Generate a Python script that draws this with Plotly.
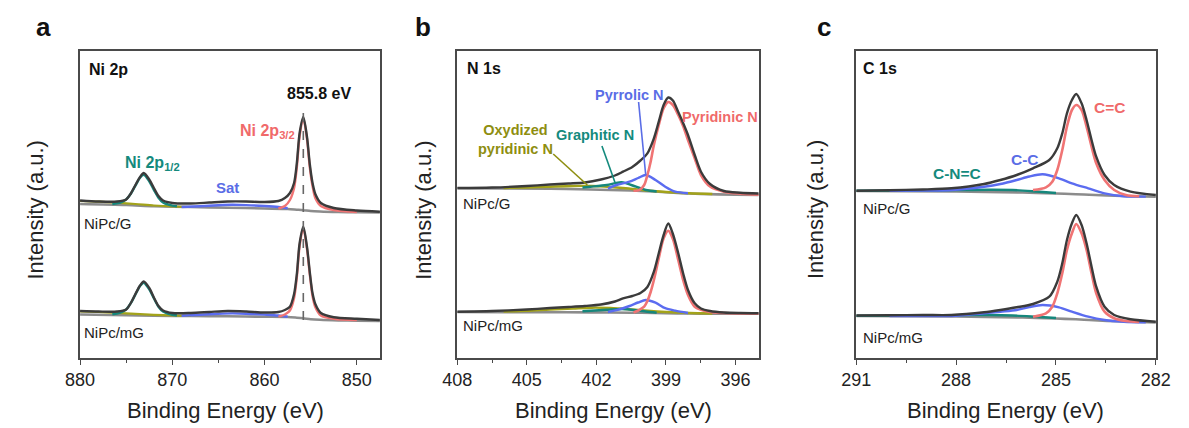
import plotly.graph_objects as go

W, H = 1189, 428

# ---------------- Panel a : Ni 2p ----------------
ni_x = [880, 878, 876, 875, 874.5, 874, 873.5, 873.1, 872.5, 872, 871.5, 871, 870, 868, 866, 864, 862, 860,
        858.5, 857.8, 857.25, 856.8, 856.5, 856.2, 855.8, 855.4, 855.1, 854.8, 854.5, 853.9, 852.5, 850, 847.5]
ni_g_env = [157.5, 156.5, 156.5, 158.5, 164.5, 173, 181, 185, 178.5, 170, 162, 157.5, 155, 154.5, 155.5, 156.5, 156.5, 156,
            157, 160, 165, 175, 195, 225, 241, 221, 194, 175, 164, 155, 150, 147.5, 146.3]
ni_mg_env = [47, 46.5, 46.5, 48.5, 55, 64, 72.5, 76.5, 70, 60.5, 52, 47.5, 45, 45, 46, 47, 46.5, 45.5,
             46, 48, 51.3, 64, 84, 114.7, 131.3, 111, 86, 64.7, 54, 45, 40.8, 39.2, 38]
ni_bg_x = [880, 875, 872, 868, 864, 860, 857.5, 856.5, 855.8, 855, 854, 852, 850, 847.5]
ni_g_bg = [154, 153, 151.8, 151, 150.3, 149.5, 149, 148.3, 147.8, 147, 146.5, 146, 145.8, 145.6]
ni_mg_bg = [43.5, 42.8, 42.3, 42, 41.7, 41.3, 41, 40.3, 39.7, 38.8, 38.2, 37.6, 37.3, 37]
ni_p12_x = [876.5, 876, 875.5, 875, 874.5, 874, 873.5, 873.1, 872.5, 872, 871.5, 871, 870.5, 870, 869.5]
ni_g_p12 = [153.9, 154.6, 155.9, 158.6, 164.3, 172.4, 180.3, 183.2, 176.8, 168.2, 160.3, 155.5, 153.6, 152.4, 151.7]
ni_mg_p12 = [43.7, 44.4, 45.8, 48.6, 54.8, 63.6, 72.1, 75.3, 68.6, 59.7, 51.3, 46.4, 44.3, 43.2, 42.5]
ni_sat2_x = [880, 878, 876, 874, 872, 870, 868]
ni_g_sat2 = [157, 156.3, 155.3, 154, 152.5, 151.5, 151]
ni_mg_sat2 = [46.5, 46, 45.2, 44.2, 43.2, 42.5, 42.1]
ni_sat_x = [869, 867, 865, 863.5, 862, 860, 858.5, 857.5]
ni_g_sat = [151, 151.8, 152.8, 153.2, 152.9, 152, 151, 149.8]
ni_mg_sat = [42.3, 43.2, 44.2, 44.6, 44.3, 43.4, 42.5, 41.3]
ni_p32_x = [858.5, 857.8, 857.25, 856.8, 856.5, 856.2, 855.8, 855.4, 855.1, 854.8, 854.5, 853.9, 852.5, 850]
ni_g_p32 = [149.5, 152, 158, 170, 191, 222, 239.5, 219, 191, 172, 160, 152, 148, 146]
ni_mg_p32 = [41.3, 43.5, 47.5, 60, 81, 112, 129.5, 109, 84, 62, 51, 42.5, 39.3, 38]
ni_peak_pos = 855.8

# ---------------- Panel b : N 1s ----------------
n_x = [408, 406.5, 405, 404, 403.2, 402.5, 401.8, 401.2, 400.85, 400.45, 400.1, 399.8, 399.52, 399.31, 399.1,
       398.9, 398.7, 398.47, 398.26, 398.05, 397.76, 397.49, 397.1, 396.5, 395.8, 395]
n_g_env = [170, 170.5, 172, 173.5, 174.5, 175.5, 178.5, 182.5, 186.3, 191, 197.5, 204.7, 219.7, 236.3, 253,
           260.5, 257.5, 246, 235, 223, 203, 186.3, 174, 167, 165.3, 164.5]
n_mg_env = [46.3, 47, 48.5, 50, 51, 52, 53.5, 56.5, 59.7, 62, 65, 71, 86.3, 104.7, 123,
            134.5, 124, 104.7, 84.7, 68, 54.7, 49.5, 47, 45.5, 45, 44.8]
n_bg_x = [408, 404, 402.25, 400.5, 399.5, 398.5, 397.5, 396, 395]
n_g_bg = [169.7, 169.3, 168.5, 167.5, 166.5, 165, 164, 163.3, 163]
n_mg_bg = [46, 45.8, 45.6, 45.3, 45, 44.6, 44.4, 44.3, 44.2]
n_pyd_x = [400.4, 400.15, 399.94, 399.8, 399.66, 399.52, 399.31, 399.1, 398.9, 398.7, 398.47, 398.26, 398.05,
           397.76, 397.49, 397.1, 396.5, 395.8, 395]
n_g_pyd = [167.3, 167.8, 173, 183, 196.3, 213, 233, 249.7, 256, 253, 243, 232, 218, 199.7, 183, 171.5, 166.3, 164.3, 163.3]
n_mg_pyd = [45.5, 48, 51.3, 57, 66, 78, 99.7, 119.7, 127.3, 119, 98, 78, 63, 51.3, 48.3, 46, 45, 44.5, 44.2]
n_pyr_x = [401.5, 401.13, 400.57, 400.2, 399.87, 399.45, 399.03, 398.6, 398.05]
n_g_pyr = [169.5, 173, 176.3, 180, 183, 178, 171.3, 166.3, 164.8]
n_mg_pyr = [46, 47.8, 52, 55.5, 58, 55.3, 49.8, 47.3, 45]
n_gra_x = [402.6, 402.25, 401.55, 400.92, 400.29, 399.87, 399.4]
n_g_gra = [170.5, 171.3, 173, 175.7, 171.3, 168, 166.5]
n_mg_gra = [46.8, 47.2, 48.2, 49, 47.8, 46.5, 45.3]
n_oxi_x = [406, 405, 404, 403, 402.2, 401.4, 400.6, 399.8, 399, 398, 397]
n_g_oxi = [170, 170.5, 171.3, 172, 172, 171, 169.5, 167.5, 166, 164.8, 164]
n_mg_oxi = [46.5, 47.2, 48.5, 49.5, 50.3, 50, 48.8, 47.2, 46, 45, 44.5]

# ---------------- Panel c : C 1s ----------------
c_x = [291, 290, 289, 288.14, 287.16, 286.67, 286.18, 285.69, 285.2, 284.96, 284.81, 284.67, 284.52, 284.39,
       284.23, 284.08, 283.93, 283.79, 283.54, 283.25, 282.76, 282]
c_g_env = [167.3, 167.8, 168.5, 169.7, 174, 178, 183, 189.7, 198, 209.7, 224.7, 244.7, 258, 264,
           254.7, 238, 218, 201.3, 183, 173, 166.3, 163]
c_mg_env = [42.5, 42.7, 43, 43, 45.7, 48, 50.7, 54, 61.3, 76.3, 94.7, 118, 134.7, 143,
            133, 114.7, 91.3, 71.3, 51.3, 43, 38.7, 36.3]
c_bg_x = [291, 288, 286, 285, 284.4, 284, 283, 282]
c_g_bg = [167, 166.5, 165.5, 164.5, 163.8, 163.2, 162, 161.3]
c_mg_bg = [42, 41.5, 40.5, 39.5, 38.7, 38, 36.5, 35.5]
c_cc2_x = [285.69, 285.3, 285.11, 284.96, 284.81, 284.67, 284.52, 284.39, 284.23, 284.08, 283.93, 283.79,
           283.54, 283.25, 282.9, 282.5]
c_g_cc2 = [168, 170.7, 176.3, 188, 208, 231.3, 248, 253, 248, 231.3, 211.3, 194.7, 178, 168, 163, 161.8]
c_mg_cc2 = [41.3, 44.7, 51.3, 64.7, 84.7, 108, 124.7, 134, 124.7, 108, 84.7, 64.7, 46.3, 39.7, 37, 36]
c_cc_x = [290, 289, 288.14, 287.16, 286.67, 286.18, 285.8, 285.4, 284.91, 284.52, 284.03, 283.54, 282.96, 282.3]
c_g_cc = [167.2, 167.5, 168, 171.3, 174, 178, 181.5, 183.7, 179.7, 174.7, 169.7, 164.7, 161.8, 161.4]
c_mg_cc = [42, 42, 42, 44.7, 46.3, 48, 51, 53, 50.7, 46.3, 41.3, 38, 36.3, 35.7]
c_cnc_x = [291, 290, 289, 288, 287, 286.3, 285.6, 285]
c_g_cnc = [167.3, 167.4, 167.6, 167.9, 168.2, 168, 166.5, 165]
c_mg_cnc = [42.3, 42.4, 42.6, 42.8, 43, 42.5, 41.2, 40]

# ---------------- styling ----------------
FONT = "Liberation Sans, Arial, sans-serif"
ENV = "#3b3b3b"
BG = "#8c8c8c"
RED = "#f07474"
BLUE = "#5b6cf0"
TEAL = "#16877c"
OLIVE = "#a3a31a"
RED_T = "#f06a6a"
BLUE_T = "#5a6de6"
TEAL_T = "#148a7d"
OLIVE_T = "#8e8e10"

fig = go.Figure()


def add(x, y, color, width, ax):
    fig.add_trace(go.Scatter(
        x=x, y=y, mode="lines",
        line=dict(color=color, width=width, shape="spline", smoothing=0.8),
        xaxis="x" if ax == 1 else f"x{ax}", yaxis="y" if ax == 1 else f"y{ax}",
        showlegend=False, hoverinfo="skip"))


panels = [
    (1, [(ni_bg_x, ni_g_bg, ni_mg_bg, BG, 2.6),
         (ni_sat2_x, ni_g_sat2, ni_mg_sat2, OLIVE, 2.2),
         (ni_p12_x, ni_g_p12, ni_mg_p12, TEAL, 2.4),
         (ni_sat_x, ni_g_sat, ni_mg_sat, BLUE, 2.4),
         (ni_p32_x, ni_g_p32, ni_mg_p32, RED, 2.4),
         (ni_x, ni_g_env, ni_mg_env, ENV, 2.4)]),
    (2, [(n_bg_x, n_g_bg, n_mg_bg, BG, 2.6),
         (n_oxi_x, n_g_oxi, n_mg_oxi, OLIVE, 2.4),
         (n_gra_x, n_g_gra, n_mg_gra, TEAL, 2.4),
         (n_pyr_x, n_g_pyr, n_mg_pyr, BLUE, 2.4),
         (n_pyd_x, n_g_pyd, n_mg_pyd, RED, 2.6),
         (n_x, n_g_env, n_mg_env, ENV, 2.4)]),
    (3, [(c_bg_x, c_g_bg, c_mg_bg, BG, 2.6),
         (c_cnc_x, c_g_cnc, c_mg_cnc, TEAL, 2.4),
         (c_cc_x, c_g_cc, c_mg_cc, BLUE, 2.4),
         (c_cc2_x, c_g_cc2, c_mg_cc2, RED, 2.6),
         (c_x, c_g_env, c_mg_env, ENV, 2.4)]),
]
for ax, comps in panels:
    for x, yg, ymg, col, w in comps:
        add(x, yg, col, w, ax)
        add(x, ymg, col, w, ax)


def px(x):
    return x / W


def py(y):
    return 1 - y / H


ydom = [py(358), py(51)]
xdoms = [[px(66.7), px(374)], [px(453.3), px(762.3)], [px(862.3), px(1170)]]
xranges = [[880, 847.5], [408, 395.0], [291, 281.98]]
dticks = [(10, 5), (3, 1.5), (3, 1.5)]

layout = dict(
    width=W, height=H, margin=dict(l=0, r=0, t=0, b=0),
    paper_bgcolor="white", plot_bgcolor="white",
    font=dict(family=FONT, color="#222"),
    showlegend=False,
)
for i in range(3):
    sx = "xaxis" if i == 0 else f"xaxis{i+1}"
    sy = "yaxis" if i == 0 else f"yaxis{i+1}"
    anchor_y = "y" if i == 0 else f"y{i+1}"
    anchor_x = "x" if i == 0 else f"x{i+1}"
    layout[sx] = dict(domain=xdoms[i], range=xranges[i], anchor=anchor_y,
                      showline=True, mirror=True, linecolor="#4a4a4a", linewidth=1.5,
                      ticks="outside", ticklen=5, tickwidth=1.3, tickcolor="#4a4a4a",
                      dtick=dticks[i][0], tick0=0,
                      minor=dict(dtick=dticks[i][1], tick0=0, ticks="outside", ticklen=3,
                                 tickwidth=1.1, tickcolor="#4a4a4a", showgrid=False),
                      tickfont=dict(size=18, family=FONT, color="#222"),
                      showgrid=False, zeroline=False, fixedrange=True)
    layout[sy] = dict(domain=ydom, range=[0, 307], anchor=anchor_x,
                      showline=True, mirror=True, linecolor="#4a4a4a", linewidth=1.5,
                      ticks="", showticklabels=False, showgrid=False, zeroline=False)
fig.update_layout(**layout)

ann = []


def txt(t, x, y, size, color="#111", xanchor="center", bold=False, angle=0):
    ann.append(dict(text=f"<b>{t}</b>" if bold else t, x=px(x), y=py(y), xref="paper", yref="paper",
                    xanchor=xanchor, yanchor="middle", showarrow=False, textangle=angle,
                    font=dict(size=size, color=color, family=FONT)))


# panel letters
txt("a", 29, 27, 26, "#111", bold=True)
txt("b", 418, 27, 26, "#111", bold=True)
txt("c", 829, 27, 26, "#111", bold=True)
# axis titles
for cx in (216, 613, 1015):
    txt("Binding Energy (eV)", cx, 410, 22, "#222")
for cx in (21, 418, 820):
    txt("Intensity (a.u.)", cx, 210, 22, "#222", angle=-90)
# panel a texts
txt("Ni 2p", 74, 70, 16, "#111", "left", True)
txt("855.8 eV", 312, 93, 16, "#111", bold=True)
txt("Ni 2p<sub>3/2</sub>", 289, 131, 16, RED_T, "right", True)
txt("Ni 2p<sub>1/2</sub>", 111, 163, 16, TEAL_T, "left", True)
txt("Sat", 218, 188, 15, BLUE_T, bold=True)
txt("NiPc/G", 69, 223, 15, "#222", "left")
txt("NiPc/mG", 69, 332, 15, "#222", "left")
# panel b texts
txt("N 1s", 461, 68, 16, "#111", "left", True)
txt("Pyrrolic N", 630, 95, 14.5, BLUE_T, bold=True)
txt("Pyridinic N", 723, 117, 14.5, RED_T, bold=True)
txt("Graphitic N", 595, 135, 14.5, TEAL_T, bold=True)
txt("Oxydized<br>pyridinic N", 513, 140, 14.5, OLIVE_T, bold=True)
txt("NiPc/G", 457, 203, 15, "#222", "left")
txt("NiPc/mG", 457, 325, 15, "#222", "left")
# panel c texts
txt("C 1s", 867, 68, 16, "#111", "left", True)
txt("C=C", 1122, 107, 15.5, RED_T, bold=True)
txt("C-C", 1035, 159, 15.5, BLUE_T, bold=True)
txt("C-N=C", 966, 173, 15.5, TEAL_T, bold=True)
txt("NiPc/G", 867, 208, 15, "#222", "left")
txt("NiPc/mG", 867, 337, 15, "#222", "left")

shapes = [
    dict(type="line", xref="x", yref="y", x0=ni_peak_pos, x1=ni_peak_pos, y0=38, y1=251,
         line=dict(color="#666", width=1.6, dash="dash")),
    dict(type="line", xref="x2", yref="y2", x0=403.86, y0=204, x1=402.39, y1=173,
         line=dict(color=OLIVE_T, width=1.6)),
    dict(type="line", xref="x2", yref="y2", x0=401.76, y0=212, x1=401.2, y1=175.7,
         line=dict(color=TEAL_T, width=1.6)),
    dict(type="line", xref="x2", yref="y2", x0=400.18, y0=256, x1=399.87, y1=182.5,
         line=dict(color=BLUE_T, width=1.6)),
]
fig.update_layout(annotations=ann, shapes=shapes)

fig.write_html("out.html")
